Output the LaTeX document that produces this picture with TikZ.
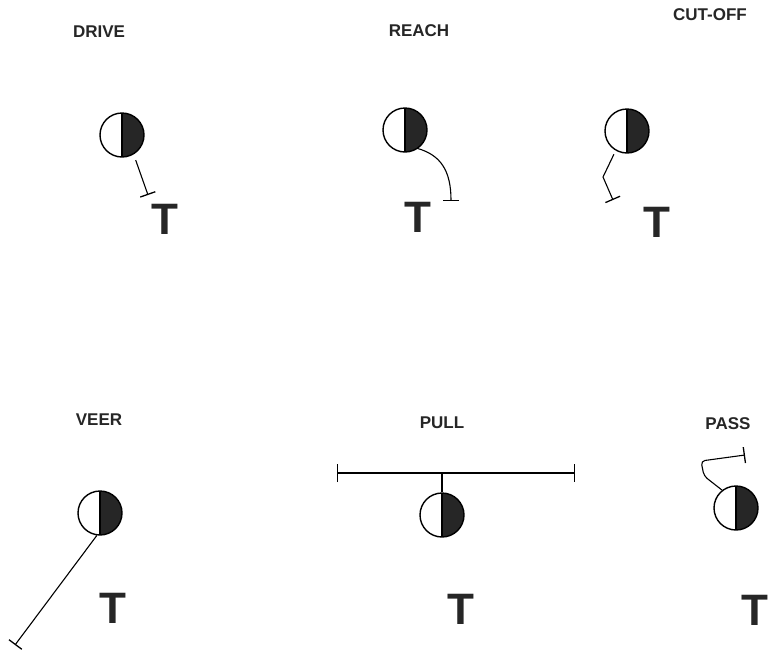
\documentclass[tikz,border=0pt]{standalone}
\usepackage{fontspec}
\setmainfont{Liberation Sans}
\usetikzlibrary{arrows.meta}
\begin{document}
\begin{tikzpicture}[x=1pt,y=-1pt,
  lbl/.style={font=\fontsize{17}{17}\selectfont\bfseries, text=black!85, inner sep=0pt},
  target/.style={font=\fontsize{44}{44}\selectfont\bfseries, text=black!85, inner sep=0pt},
  player/.style={circle, draw=black, line width=1.4pt, minimum size=44pt, inner sep=0pt,
    path picture={
      \fill[black!85] (path picture bounding box.north) rectangle (path picture bounding box.south east);
      \draw[line width=1.2pt] (path picture bounding box.north) -- (path picture bounding box.south);
    }},
  move/.style={line width=1.1pt, -{Bar[width=16pt,line width=1.3pt]}},
]
\useasboundingbox (0,0) rectangle (768,651);

% ---- DRIVE
\node[lbl] (ldrive) at (99,32) {DRIVE};
\node[player] (pdrive) at (122,135) {};
\coordinate (edrive) at (148,195);
\draw[move, shorten <=6pt] (pdrive.-59) -- (edrive);
\node[target] (tdrive) at (164.5,219) {T};

% ---- REACH
\node[lbl] (lreach) at (419,31) {REACH};
\node[player] (preach) at (405,130) {};
\coordinate (ereach) at (451,201);
\draw[move] (preach.-55) .. controls (440,155) and (451,170) .. (ereach);
\node[target] (treach) at (417.5,217.5) {T};

% ---- CUT-OFF
\node[lbl] (lcut) at (710,15) {CUT-OFF};
\node[player] (pcut) at (627,131) {};
\coordinate (kcut) at (603,177);
\coordinate (ecut) at (613,200);
\draw[move, shorten <=4pt] (pcut.240) -- (kcut) -- (ecut);
\node[target] (tcut) at (656.5,222) {T};

% ---- VEER
\node[lbl] (lveer) at (99,420) {VEER};
\node[player] (pveer) at (100,513) {};
\coordinate (eveer) at (15,645);
\draw[move] (pveer.-98) -- (eveer);
\node[target] (tveer) at (113,608.5) {T};

% ---- PULL
\node[lbl] (lpull) at (442,423) {PULL};
\node[player] (ppull) at (442,515) {};
\coordinate (lpl) at (337,473);
\coordinate (lpr) at (575,473);
\coordinate (lpm) at (442,473);
\draw[line width=1.1pt, {Bar[width=18pt,line width=1.3pt]}-{Bar[width=18pt,line width=1.3pt]}] (lpl) -- (lpr);
\draw[line width=1.1pt] (ppull.north) -- (lpm);
\node[target] (tpull) at (461,609) {T};

% ---- PASS
\node[lbl] (lpass) at (728,424) {PASS};
\node[player] (ppass) at (736,508) {};
\coordinate (ka) at (704,476);
\coordinate (kb) at (701,461);
\coordinate (epass) at (745,455);
\draw[move, rounded corners=4pt] (ppass.128) -- (ka) -- (kb) -- (epass);
\node[target] (tpass) at (755,610) {T};
\end{tikzpicture}
\end{document}
